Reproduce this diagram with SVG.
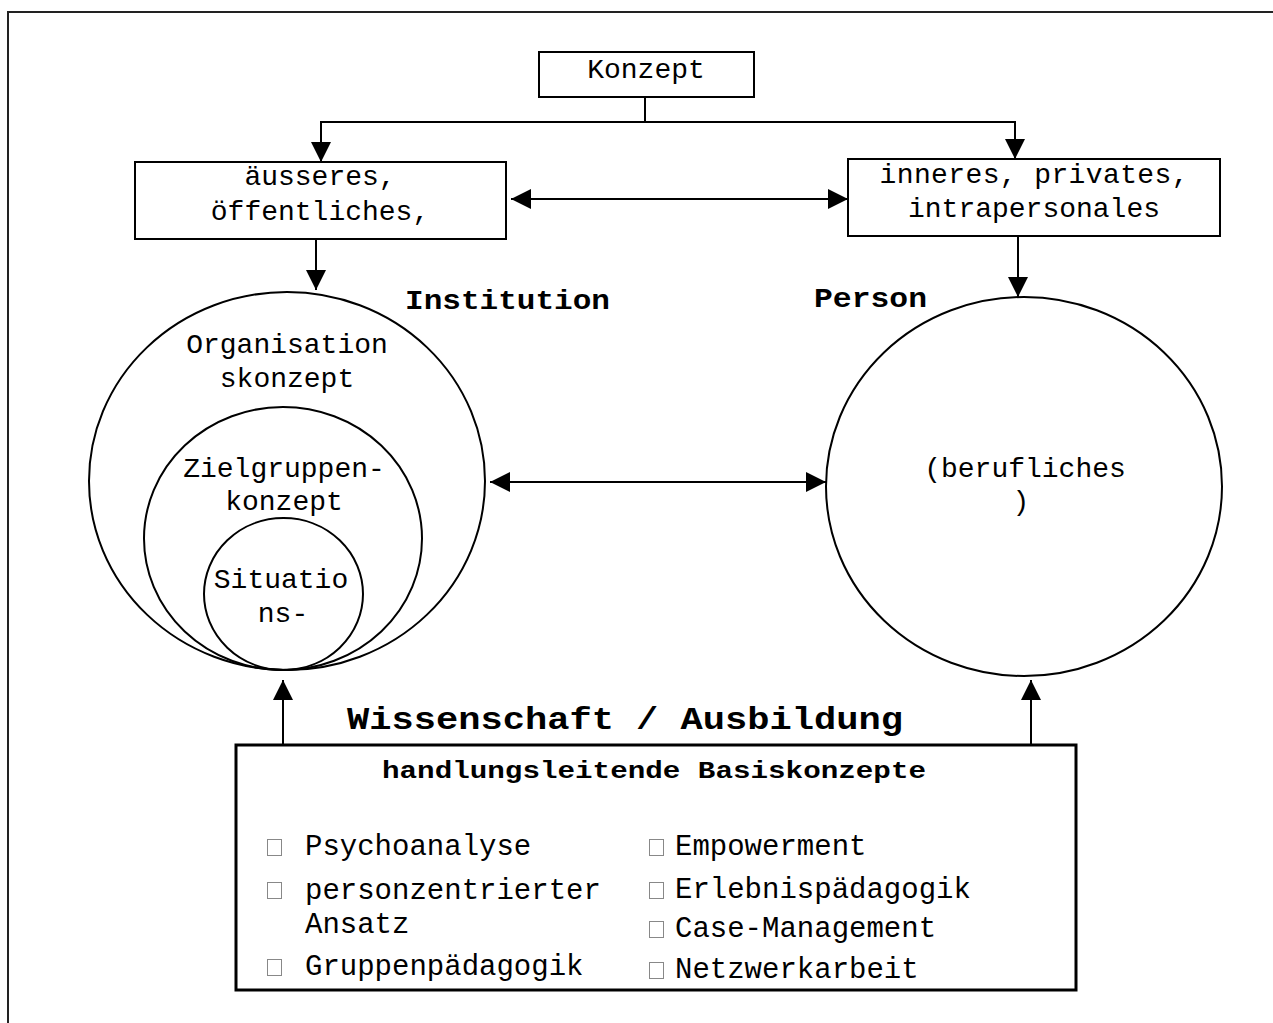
<svg xmlns="http://www.w3.org/2000/svg" width="1273" height="1023" viewBox="0 0 1273 1023">
<style>
.t{font-family:"Liberation Mono","DejaVu Sans Mono",monospace;font-size:28px;fill:#000}
.l{font-family:"Liberation Mono","DejaVu Sans Mono",monospace;font-size:29px;fill:#000}
.b{font-family:"Liberation Mono","DejaVu Sans Mono",monospace;font-weight:bold;fill:#000}
.box{fill:#fff;stroke:#000;stroke-width:2}
.c{fill:none;stroke:#000;stroke-width:2}
.tofu{fill:#fff;stroke:#888;stroke-width:1}
</style>
<defs>
<marker id="ah" markerUnits="userSpaceOnUse" markerWidth="20" markerHeight="20" refX="20" refY="10" orient="auto-start-reverse">
<path d="M0,0 L20,10 L0,20 z" fill="#000"/>
</marker>
</defs>
<rect x="0" y="0" width="1273" height="1023" fill="#fff"/>
<rect x="8" y="12" width="1300" height="1100" fill="none" stroke="#222" stroke-width="2"/>

<g id="connectors">
<path class="c" d="M645,97 V122 H321 V162" marker-end="url(#ah)"/>
<path class="c" d="M645,122 H1015 V159" marker-end="url(#ah)"/>
<path class="c" d="M511,199 H848" marker-start="url(#ah)" marker-end="url(#ah)"/>
<path class="c" d="M316,239 V290" marker-end="url(#ah)"/>
<path class="c" d="M1018,236 V297" marker-end="url(#ah)"/>
<path class="c" d="M490,482 H826" marker-start="url(#ah)" marker-end="url(#ah)"/>
<path class="c" d="M283,745 V680" marker-end="url(#ah)"/>
<path class="c" d="M1031,745 V680" marker-end="url(#ah)"/>
</g>

<g id="konzept">
<rect class="box" x="539" y="52" width="215" height="45"/>
<text class="t" x="646" y="78" text-anchor="middle">Konzept</text>
</g>

<g id="aeusseres">
<rect class="box" x="135" y="162" width="371" height="77"/>
<text class="t" x="320" y="185" text-anchor="middle">äusseres,</text>
<text class="t" x="320" y="220" text-anchor="middle">öffentliches,</text>
</g>

<g id="inneres">
<rect class="box" x="848" y="159" width="372" height="77"/>
<text class="t" x="1034" y="183" text-anchor="middle" textLength="309" lengthAdjust="spacing">inneres, privates,</text>
<text class="t" x="1034" y="217" text-anchor="middle">intrapersonales</text>
</g>

<g id="institution">
<text class="b" x="405" y="309" font-size="27" textLength="205" lengthAdjust="spacingAndGlyphs">Institution</text>
<ellipse class="c" cx="287" cy="481" rx="198" ry="189"/>
<text class="t" x="287" y="353" text-anchor="middle">Organisation</text>
<text class="t" x="287" y="387" text-anchor="middle">skonzept</text>
</g>

<g id="zielgruppen">
<ellipse class="c" cx="283" cy="538.5" rx="139" ry="131.5"/>
<text class="t" x="284" y="477" text-anchor="middle">Zielgruppen-</text>
<text class="t" x="284" y="510" text-anchor="middle">konzept</text>
</g>

<g id="situations">
<ellipse class="c" cx="283.5" cy="594" rx="79.5" ry="76"/>
<text class="t" x="281" y="588" text-anchor="middle">Situatio</text>
<text class="t" x="283" y="622" text-anchor="middle">ns-</text>
</g>

<g id="person">
<text class="b" x="814" y="307" font-size="27" textLength="113" lengthAdjust="spacingAndGlyphs">Person</text>
<ellipse class="c" cx="1024" cy="486.5" rx="198" ry="189.5"/>
<text class="t" x="1025" y="477" text-anchor="middle">(berufliches</text>
<text class="t" x="1021" y="510" text-anchor="middle">)</text>
</g>

<g id="wissenschaft">
<text class="b" x="347" y="729" font-size="32" textLength="556" lengthAdjust="spacingAndGlyphs">Wissenschaft / Ausbildung</text>
<rect x="236" y="745" width="840" height="245" fill="#fff" stroke="#000" stroke-width="3"/>
<text class="b" x="382" y="778" font-size="23" textLength="544" lengthAdjust="spacingAndGlyphs">handlungsleitende Basiskonzepte</text>
<rect class="tofu" x="267.5" y="839.5" width="14" height="16"/>
<text class="l" x="305" y="855">Psychoanalyse</text>
<rect class="tofu" x="267.5" y="882.5" width="14" height="16"/>
<text class="l" x="305" y="899">personzentrierter</text>
<text class="l" x="305" y="933">Ansatz</text>
<rect class="tofu" x="267.5" y="959.5" width="14" height="16"/>
<text class="l" x="305" y="975">Gruppenpädagogik</text>
<rect class="tofu" x="649.5" y="839.5" width="14" height="16"/>
<text class="l" x="675" y="855">Empowerment</text>
<rect class="tofu" x="649.5" y="882.5" width="14" height="16"/>
<text class="l" x="675" y="898">Erlebnispädagogik</text>
<rect class="tofu" x="649.5" y="921.5" width="14" height="16"/>
<text class="l" x="675" y="937">Case-Management</text>
<rect class="tofu" x="649.5" y="962.5" width="14" height="16"/>
<text class="l" x="675" y="978">Netzwerkarbeit</text>
</g>
</svg>
